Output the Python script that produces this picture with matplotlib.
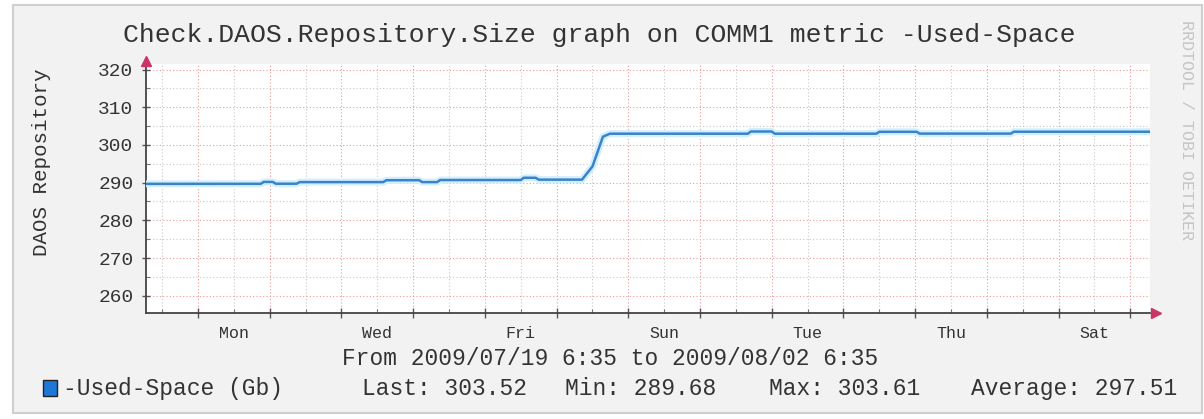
import matplotlib
matplotlib.use('Agg')
import matplotlib.pyplot as plt
import matplotlib.dates as mdates
import matplotlib.transforms as mtransforms
from matplotlib.patches import Rectangle
from datetime import datetime, timedelta

# ---------------- data ----------------
title = "Check.DAOS.Repository.Size graph on COMM1 metric -Used-Space"
y_label = "DAOS Repository"
period_text = "From 2009/07/19 6:35 to 2009/08/02 6:35"
start_time = "2009-07-19 06:35"
end_time = "2009-08-02 06:35"

sample_times = [
    "2009-07-19 06:35", "2009-07-20 21:00", "2009-07-20 22:00", "2009-07-21 01:00",
    "2009-07-21 02:00", "2009-07-21 09:00", "2009-07-21 10:00", "2009-07-22 14:00",
    "2009-07-22 15:00", "2009-07-23 02:00", "2009-07-23 03:00", "2009-07-23 08:00",
    "2009-07-23 09:00", "2009-07-24 12:00", "2009-07-24 13:00", "2009-07-24 17:00",
    "2009-07-24 18:00", "2009-07-25 08:30", "2009-07-25 12:00", "2009-07-25 15:30",
    "2009-07-25 17:50", "2009-07-27 16:00", "2009-07-27 17:00", "2009-07-28 00:00",
    "2009-07-28 01:00", "2009-07-29 11:00", "2009-07-29 12:00", "2009-07-30 00:30",
    "2009-07-30 01:30", "2009-07-31 08:00", "2009-07-31 09:00", "2009-08-02 06:35",
]
used_space = [
    289.68, 289.70, 290.20, 290.20,
    289.72, 289.72, 290.15, 290.15,
    290.65, 290.65, 290.15, 290.15,
    290.70, 290.70, 291.30, 291.30,
    290.80, 290.80, 294.30, 302.20,
    303.00, 303.00, 303.58, 303.58,
    303.00, 303.00, 303.50, 303.50,
    303.02, 303.02, 303.52, 303.52,
]
day_labels = ["Mon", "Wed", "Fri", "Sun", "Tue", "Thu", "Sat"]
day_label_noons = ["2009-07-20 12:00", "2009-07-22 12:00", "2009-07-24 12:00",
                   "2009-07-26 12:00", "2009-07-28 12:00", "2009-07-30 12:00",
                   "2009-08-01 12:00"]
y_ticks = [260, 270, 280, 290, 300, 310, 320]
legend_name = "-Used-Space (Gb)"
legend_stats = ["Last: 303.52", "Min: 289.68", "Max: 303.61", "Average: 297.51"]
watermark = "RRDTOOL / TOBI OETIKER"

# ---------------- layout ----------------
W, H = 1204, 419
FONT = ['Liberation Mono', 'DejaVu Sans Mono']
plt.rcParams['font.family'] = FONT

def fx(px):
    return px / W

def fy(py):
    return 1 - py / H

def parse(s):
    return datetime.strptime(s, "%Y-%m-%d %H:%M")

fig = plt.figure(figsize=(W / 100, H / 100), dpi=100)
fig.patch.set_facecolor('white')
fig.add_artist(Rectangle((fx(13), fy(413)), fx(1202) - fx(13), fy(5) - fy(413),
                         transform=fig.transFigure, facecolor='#f2f2f2',
                         edgecolor='#cfcfcf', lw=1.5, zorder=0))

ax = fig.add_axes([fx(146), fy(313), fx(1150) - fx(146), fy(64) - fy(313)])
ax.set_facecolor('white')

t = [parse(s) for s in sample_times]
t0, t1 = parse(start_time), parse(end_time)

ax.plot(t, used_space, color='#d2effc', lw=5, solid_joinstyle='round', zorder=3)
ax.plot(t, used_space, color='#3a82cc', lw=1.8, zorder=4)

ax.set_xlim(t0, t1)
ax.set_ylim(255.4, 321.5)

# grid / ticks
ax.xaxis.set_major_locator(mdates.DayLocator())
ax.xaxis.set_minor_locator(mdates.HourLocator(byhour=[0, 12]))
ax.xaxis.set_major_formatter(plt.NullFormatter())
ax.set_yticks(y_ticks)
ax.set_yticks([v + 5 for v in y_ticks[:-1]], minor=True)
ax.set_yticklabels([str(v) for v in y_ticks])

ax.grid(which='minor', color='#c9c9c9', lw=0.8, ls=(0, (1, 2)), zorder=1)
ax.grid(which='major', color='#ec9a9a', lw=0.8, ls=(0, (1, 2)), zorder=2)

ax.tick_params(axis='x', which='major', direction='inout', length=7, color='#555555', width=1)
ax.tick_params(axis='x', which='minor', direction='in', length=3, color='#777777', width=0.8)
ax.tick_params(axis='y', which='major', direction='inout', length=6, color='#555555', width=1,
               labelsize=14, labelcolor='#333333', pad=6)
ax.tick_params(axis='y', which='minor', direction='in', length=3, color='#777777', width=0.8)

for side in ['top', 'right']:
    ax.spines[side].set_visible(False)
for side in ['left', 'bottom']:
    ax.spines[side].set_color('#444444')
    ax.spines[side].set_linewidth(1.3)

# axis arrows
ax.plot([0], [1.012], marker='^', markersize=7, color='#cc3366', transform=ax.transAxes,
        clip_on=False, zorder=6)
ax.plot([1.006], [0], marker='>', markersize=7, color='#cc3366', transform=ax.transAxes,
        clip_on=False, zorder=6)

# day labels at noon
trans = mtransforms.blended_transform_factory(ax.transData, ax.transAxes)
for lab, noon in zip(day_labels, day_label_noons):
    ax.text(mdates.date2num(parse(noon)), -20 / 249, lab, transform=trans,
            ha='center', va='center', fontsize=12, color='#333333')

# texts
fig.text(fx(599), fy(35), title, ha='center', va='center', fontsize=19, color='#333333')
fig.text(fx(42), fy(162), y_label, rotation=90, ha='center', va='center', fontsize=15,
         color='#333333')
fig.text(fx(610), fy(358), period_text, ha='center', va='center', fontsize=16.5,
         color='#333333')

fig.add_artist(Rectangle((fx(43), fy(396)), fx(57) - fx(43), fy(380) - fy(396),
                         transform=fig.transFigure, facecolor='#1f78d8',
                         edgecolor='#222222', lw=1))
fig.text(fx(63), fy(388), legend_name, ha='left', va='center', fontsize=16.5, color='#333333')
for s, xp in zip(legend_stats, [362, 565, 769, 971]):
    fig.text(fx(xp), fy(388), s, ha='left', va='center', fontsize=16.5, color='#333333')

fig.text(fx(1187), fy(130), watermark, rotation=270, ha='center', va='center', fontsize=12,
         color='#c4c4c4')

fig.savefig('out.png', dpi=100, facecolor=fig.get_facecolor())
